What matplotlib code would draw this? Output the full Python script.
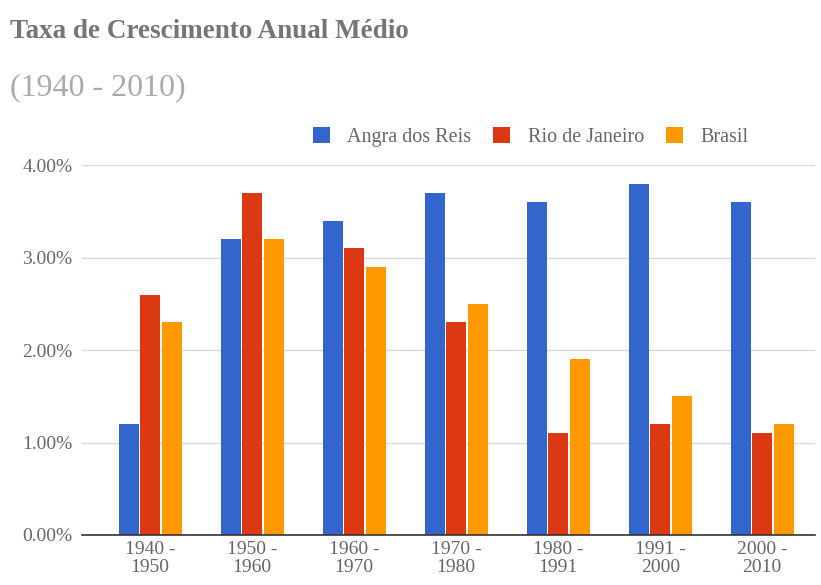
import matplotlib.pyplot as plt
import numpy as np

plt.rcParams['font.family'] = ['Liberation Serif', 'DejaVu Serif']

periodos = ['1940 -\n1950', '1950 -\n1960', '1960 -\n1970', '1970 -\n1980',
            '1980 -\n1991', '1991 -\n2000', '2000 -\n2010']
angra = [1.2, 3.2, 3.4, 3.7, 3.6, 3.8, 3.6]
rio = [2.6, 3.7, 3.1, 2.3, 1.1, 1.2, 1.1]
brasil = [2.3, 3.2, 2.9, 2.5, 1.9, 1.5, 1.2]
series = ['Angra dos Reis', 'Rio de Janeiro', 'Brasil']
cores = ['#3366CC', '#DC3912', '#FF9900']
yticks = [0, 1, 2, 3, 4]

fig = plt.figure(figsize=(8.21, 5.85), dpi=100)
ax = fig.add_axes([0.1, 0.0855, 0.893, 0.632])

x = np.arange(len(periodos))
w = 0.196
for i, (vals, nome, cor) in enumerate(zip([angra, rio, brasil], series, cores)):
    ax.bar(x + (i - 1) * 0.212, vals, w, color=cor, label=nome, zorder=3)

ax.set_xlim(-0.667, 6.52)
ax.set_ylim(0, 4)
ax.set_yticks(yticks)
ax.set_yticklabels([f'{v:.2f}%' for v in yticks])
ax.set_xticks(x)
ax.set_xticklabels(periodos, linespacing=1.1)
ax.grid(axis='y', color='#d9d9d9', linewidth=1, zorder=0)
for s in ['top', 'right', 'left']:
    ax.spines[s].set_visible(False)
ax.spines['bottom'].set_color('#333333')
ax.spines['bottom'].set_linewidth(1.2)
ax.spines['bottom'].set_zorder(4)
ax.tick_params(axis='both', length=0, colors='#666666')
ax.tick_params(axis='y', pad=7, labelsize=14)
ax.tick_params(axis='x', pad=4, labelsize=14)

ax.legend(loc='center left', bbox_to_anchor=(0.381, 0.766),
          bbox_transform=fig.transFigure, ncol=3, frameon=False,
          fontsize=14.5, labelcolor='#666666', handlelength=0.85,
          handleheight=0.85, columnspacing=1.1, handletextpad=0.85,
          borderaxespad=0, borderpad=0)

fig.text(0.012, 0.935, 'Taxa de Crescimento Anual Médio', fontsize=19.5,
         fontweight='bold', color='#757575', va='baseline')
fig.text(0.012, 0.838, '(1940 - 2010)', fontsize=23, color='#aaaaaa',
         va='baseline')

fig.savefig('out.png', dpi=100)
